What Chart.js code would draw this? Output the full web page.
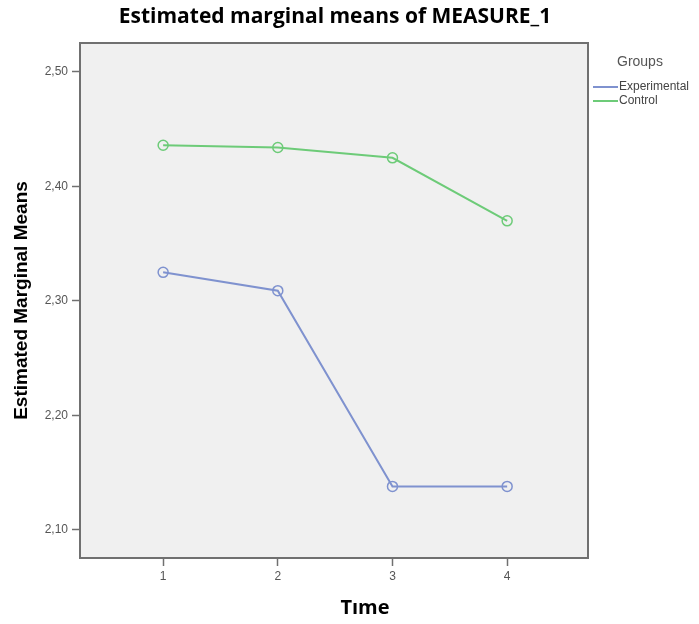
<!DOCTYPE html>
<html>
<head>
<meta charset="utf-8">
<script src="https://cdn.jsdelivr.net/npm/chart.js@4.4.1/dist/chart.umd.min.js"></script>
<style>
  html, body { margin: 0; padding: 0; background: #fff; }
  #wrap { width: 699px; height: 624px; position: relative; }
</style>
</head>
<body>
<div id="wrap"><canvas id="c" width="699" height="624"></canvas></div>
<script>
const timePoints = [1, 2, 3, 4];
const experimental = [2.325, 2.309, 2.138, 2.138];
const control = [2.436, 2.434, 2.425, 2.370];
const yTicks = [2.10, 2.20, 2.30, 2.40, 2.50];
const groupNames = ['Experimental', 'Control'];
const groupColors = ['#7f92cf', '#6dcb78'];

// plot background + frame, titles, legend
const decor = {
  id: 'decor',
  beforeDraw(chart) {
    const { ctx, chartArea: a } = chart;
    ctx.save();
    ctx.fillStyle = '#f0f0f0';
    ctx.fillRect(a.left, a.top, a.right - a.left, a.bottom - a.top);
    ctx.restore();
  },
  afterDraw(chart) {
    const { ctx, chartArea: a } = chart;
    ctx.save();
    ctx.strokeStyle = '#707070';
    ctx.lineWidth = 2;
    ctx.strokeRect(a.left, a.top, a.right - a.left, a.bottom - a.top);

    ctx.fillStyle = '#000';
    ctx.font = 'bold 21px "Open Sans"';
    ctx.textAlign = 'center';
    ctx.textBaseline = 'middle';
    ctx.fillText('Estimated marginal means of MEASURE_1', 335, 17);
    ctx.font = 'bold 20px "Open Sans"';
    ctx.fillText('Tıme', 365, 608);

    ctx.textAlign = 'left';
    ctx.fillStyle = '#555';
    ctx.font = '14px Arial, "Liberation Sans"';
    ctx.fillText('Groups', 617, 62);
    ctx.font = '12px Arial, "Liberation Sans"';
    groupNames.forEach((n, i) => {
      const y = 87 + i * 14;
      ctx.strokeStyle = groupColors[i];
      ctx.lineWidth = 2;
      ctx.beginPath();
      ctx.moveTo(593, y);
      ctx.lineTo(618, y);
      ctx.stroke();
      ctx.fillStyle = '#444';
      ctx.fillText(n, 619, y);
    });
    ctx.restore();
  }
};

new Chart(document.getElementById('c'), {
  type: 'line',
  data: {
    datasets: [
      { label: groupNames[0], data: timePoints.map((t, i) => ({ x: t, y: experimental[i] })),
        borderColor: groupColors[0], backgroundColor: 'rgba(0,0,0,0)', borderWidth: 2,
        pointRadius: 5, pointBorderWidth: 1.5, pointBackgroundColor: 'rgba(0,0,0,0)' },
      { label: groupNames[1], data: timePoints.map((t, i) => ({ x: t, y: control[i] })),
        borderColor: groupColors[1], backgroundColor: 'rgba(0,0,0,0)', borderWidth: 2,
        pointRadius: 5, pointBorderWidth: 1.5, pointBackgroundColor: 'rgba(0,0,0,0)' }
    ]
  },
  options: {
    responsive: false,
    animation: false,
    layout: { padding: { top: 43, right: 111, left: 0, bottom: 0 } },
    plugins: { legend: { display: false }, tooltip: { enabled: false } },
    scales: {
      x: {
        type: 'linear',
        min: 0.275,
        max: 4.705,
        afterBuildTicks: s => { s.ticks = timePoints.map(v => ({ value: v })); },
        afterFit: s => { s.height = 66; },
        grid: { display: true, drawOnChartArea: false, drawTicks: true, tickLength: 8, color: '#707070', tickWidth: 1.5 },
        border: { display: false },
        ticks: { color: '#555', font: { size: 12, family: 'Arial, "Liberation Sans"' }, padding: 3 }
      },
      y: {
        min: 2.0755,
        max: 2.5253,
        afterBuildTicks: s => { s.ticks = yTicks.map(v => ({ value: v })); },
        afterFit: s => { s.width = 80; },
        grid: { display: true, drawOnChartArea: false, drawTicks: true, tickLength: 8, color: '#707070', tickWidth: 1.5 },
        border: { display: false },
        ticks: { color: '#555', font: { size: 12, family: 'Arial, "Liberation Sans"' }, padding: 4,
                 callback: v => v.toFixed(2).replace('.', ',') },
        title: { display: true, text: 'Estimated Marginal Means', color: '#000', font: { size: 19, weight: 'bold', family: 'Arial, "Liberation Sans"' }, padding: { top: 10, bottom: 0 } }
      }
    }
  },
  plugins: [decor]
});
</script>
</body>
</html>
